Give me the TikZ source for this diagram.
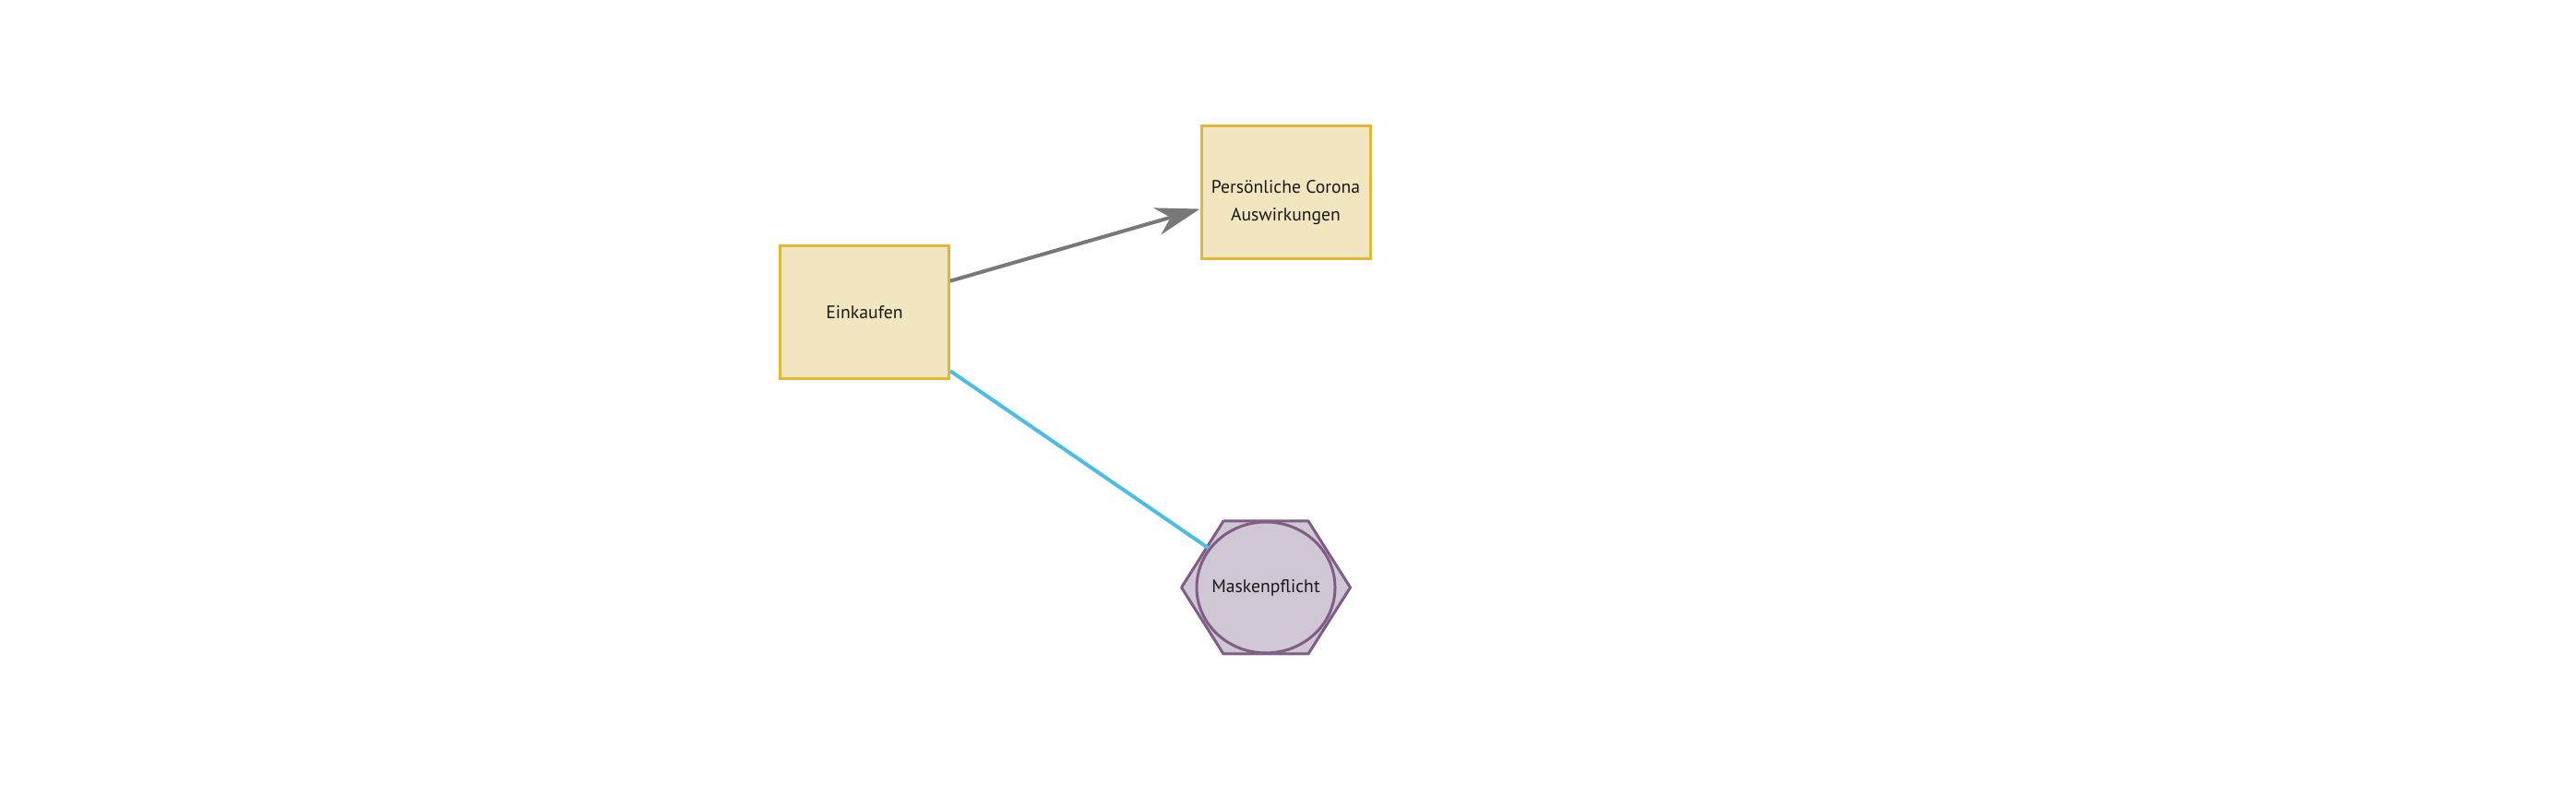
\documentclass[tikz,border=0pt]{standalone}
\usepackage{fontspec}
\setmainfont{PT Sans}
\usetikzlibrary{arrows.meta,shapes.geometric}
\definecolor{boxfill}{HTML}{F2E6C0}
\definecolor{boxline}{HTML}{E2B735}
\definecolor{hexfill}{HTML}{CFC7D3}
\definecolor{hexline}{HTML}{7F5E85}
\definecolor{linkblue}{HTML}{4DBDE6}
\definecolor{linkgray}{HTML}{787878}

\begin{document}
\begin{tikzpicture}[
        boxtext/.style={font=\fontsize{5.6}{8.54}\selectfont, text=black!90, align=center},
        box/.style={draw=boxline, fill=boxfill, line width=0.03cm, minimum width=1.83cm, minimum height=1.44cm, inner sep=0pt},
        hex/.style={draw=hexline, fill=hexfill, line width=0.03cm, line join=round},
        bubble/.style={ellipse, draw=hexline, fill=hexfill, line width=0.03cm, minimum width=1.50cm, minimum height=1.42cm, inner sep=0pt}
    ]
        \useasboundingbox (0,0) rectangle (27.92,8.75);

        \node[box, boxtext] (einkaufen) at (9.37,5.365) {Einkaufen};
        \node[box] (persoenlich) at (13.935,6.665) {};
        \node[boxtext] (persoenlichtext) at ([yshift=-0.115cm]persoenlich.center) {Persönliche Corona\\Auswirkungen};

        \coordinate (maskcenter) at (13.72,2.38);
        \draw[hex] ([shift={(-0.915,0)}]maskcenter) -- ([shift={(-0.46,0.72)}]maskcenter)
            -- ([shift={(0.46,0.72)}]maskcenter) -- ([shift={(0.915,0)}]maskcenter)
            -- ([shift={(0.46,-0.72)}]maskcenter) -- ([shift={(-0.46,-0.72)}]maskcenter) -- cycle;
        \node[bubble, boxtext] (mask) at (maskcenter) {\makebox[0pt]{Maskenpflicht}};

        \draw [linkblue, line width=0.04cm] (einkaufen) -- (mask);
        \draw [linkgray, line width=0.04cm, -{Stealth[length=0.48cm, width=0.30cm, inset=0.15cm]}] (einkaufen.20) -- (persoenlich.191);

    \end{tikzpicture}
\end{document}
